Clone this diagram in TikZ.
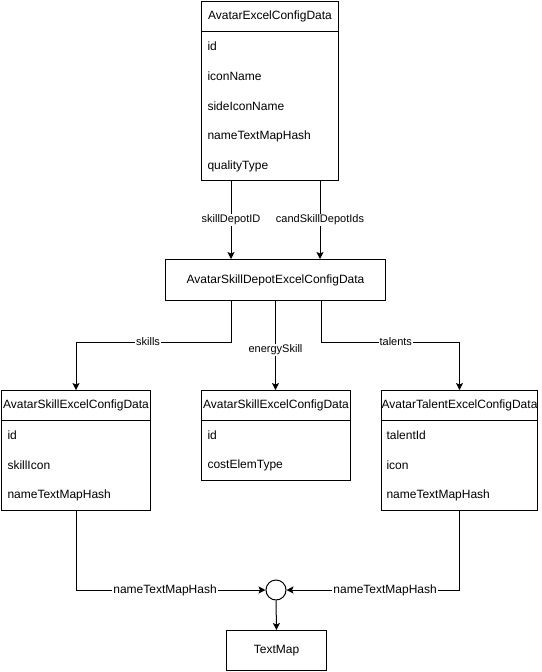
\documentclass[tikz,border=0pt]{standalone}
\usepackage{fontspec}
\setmainfont{Liberation Sans}
\usetikzlibrary{arrows.meta,calc}
\begin{document}
\begin{tikzpicture}[x=1pt,y=-1pt,line width=1pt,
  box/.style={draw,anchor=north west,inner sep=0pt,font=\fontsize{12}{14}\selectfont},
  item/.style={anchor=west,inner sep=0pt,font=\fontsize{12}{14}\selectfont},
  lbl/.style={fill=white,inner sep=1pt,font=\fontsize{11}{13}\selectfont},
  biglbl/.style={lbl,font=\fontsize{12}{14}\selectfont},
  arr/.style={-{Stealth[length=7pt,width=7pt,inset=1.5pt]}}]
\useasboundingbox (0,0) rectangle (541,672);
% top class
\node[box,minimum width=137pt,minimum height=30pt] (a) at (201,1) {AvatarExcelConfigData};
\node[box,minimum width=137pt,minimum height=149pt] (ab) at (201,31) {};
\node[item] (a1) at (207,46) {id};
\node[item] (a2) at (207,76) {iconName};
\node[item] (a3) at (207,106) {sideIconName};
\node[item] (a4) at (207,136) {nameTextMapHash};
\node[item] (a5) at (207,166) {qualityType};
% depot
\node[box,minimum width=220pt,minimum height=41pt] (d) at (165,259) {AvatarSkillDepotExcelConfigData};
% left class
\node[box,minimum width=149pt,minimum height=30pt] (s) at (1,390) {AvatarSkillExcelConfigData};
\node[box,minimum width=149pt,minimum height=90pt] (sb) at (1,420) {};
\node[item] (s1) at (7,435) {id};
\node[item] (s2) at (7,465) {skillIcon};
\node[item] (s3) at (7,495) {nameTextMapHash};
% middle class
\node[box,minimum width=149pt,minimum height=30pt] (e) at (201,390) {AvatarSkillExcelConfigData};
\node[box,minimum width=149pt,minimum height=60pt] (eb) at (201,420) {};
\node[item] (e1) at (207,435) {id};
\node[item] (e2) at (207,465) {costElemType};
% right class
\node[box,minimum width=156pt,minimum height=30pt] (t) at (381,390) {AvatarTalentExcelConfigData};
\node[box,minimum width=156pt,minimum height=90pt] (tb) at (381,420) {};
\node[item] (t1) at (386,435) {talentId};
\node[item] (t2) at (386,465) {icon};
\node[item] (t3) at (386,495) {nameTextMapHash};
% junction and TextMap
\node[draw,circle,minimum size=20pt,inner sep=0pt] (j) at (276,590) {};
\node[box,minimum width=100pt,minimum height=40pt] (tm) at (226,630) {TextMap};
% top to depot
\draw[arr] ([xshift=30pt]ab.south west) -- ([xshift=30pt]ab.south west |- d.north) node[lbl,midway] {skillDepotID};
\draw[arr] ([xshift=119pt]ab.south west) -- ([xshift=119pt]ab.south west |- d.north) node[lbl,midway] {candSkillDepotIds};
% depot to classes
\draw[arr] ([xshift=66pt]d.south west) -- ([xshift=66pt,yshift=-41pt]d.south west) -- node[lbl,pos=0.535] {skills} ([yshift=-41pt]d.south west -| s.north) -- (s.north);
\draw[arr] (d.south) -- (d.south |- e.north) node[lbl,pos=0.55] {energySkill};
\draw[arr] ([xshift=156pt]d.south west) -- ([xshift=156pt,yshift=-41pt]d.south west) -- node[lbl,pos=0.54] {talents} ([yshift=-41pt]d.south west -| t.north) -- (t.north);
% to junction
\draw[arr] (sb.south) -- (sb.south |- j.west) -- node[biglbl,pos=0.47] {nameTextMapHash} (j.west);
\draw[arr] (tb.south) -- (tb.south |- j.east) -- node[biglbl,pos=0.43] {nameTextMapHash} (j.east);
\draw[arr] (j.south) -- (tm.north);
\end{tikzpicture}
\end{document}
